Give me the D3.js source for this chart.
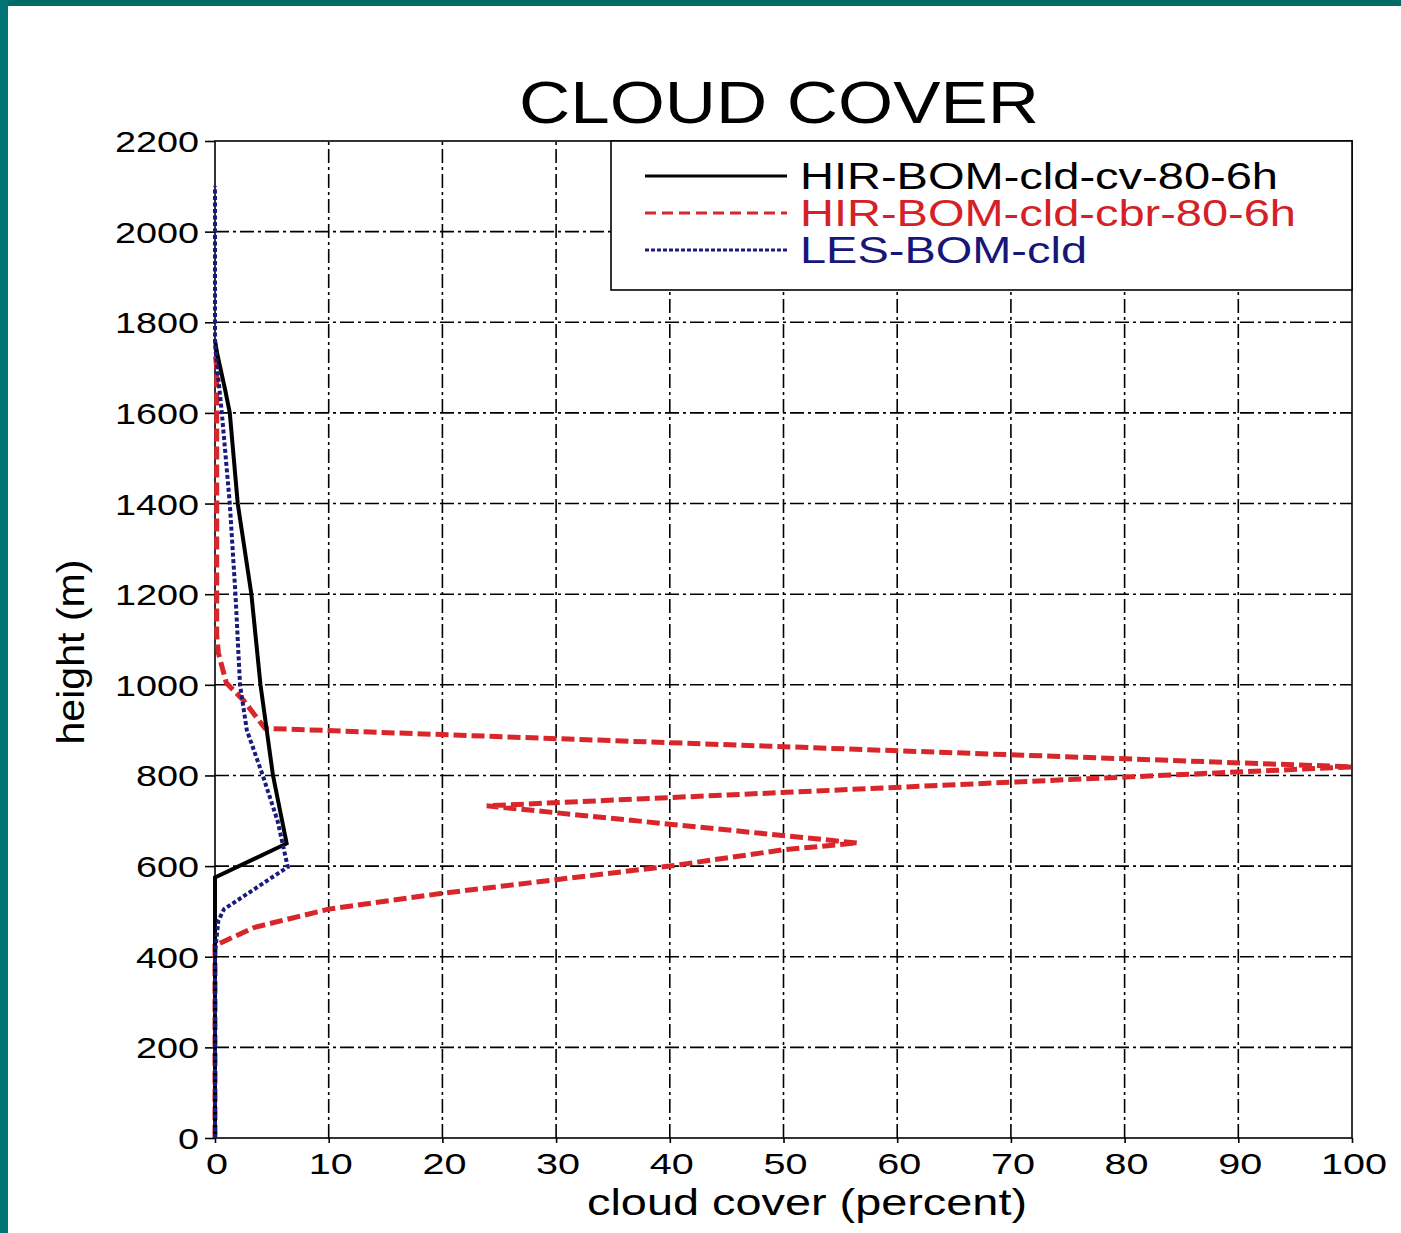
<!DOCTYPE html>
<html>
<head>
<meta charset="utf-8">
<script src="https://cdn.jsdelivr.net/npm/d3@7"></script>
<style>
  body { margin: 0; background: #fff; }
  svg { display: block; font-family: "Liberation Sans", Arial, sans-serif; }
  .grid line { stroke: #000; stroke-width: 1.6; stroke-dasharray: 14,4,3,4; }
  .tick-label { font-size: 30px; fill: #000; }
</style>
</head>
<body>
<div id="chart"></div>
<script>
// heights (m) and cloud cover (%)
const cvHeight  = [0, 575, 650, 800, 1000, 1200, 1400, 1600, 1650, 1730, 1760];
const cvCover   = [0, 0, 6.3, 5.1, 4.0, 3.2, 2.0, 1.3, 0.9, 0.2, 0];

const cbrHeight = [0, 425, 465, 505, 540, 570, 600, 636, 651, 733, 819, 904, 966, 1004, 1070, 1110, 1700, 1735];
const cbrCover  = [0, 0, 3.5, 10, 20, 30, 40, 50, 56.5, 23.9, 100, 4.4, 2.5, 1.0, 0.3, 0.15, 0.15, 0];

const lesHeight = [0, 410, 480, 505, 598, 700, 800, 900, 1000, 1200, 1400, 1600, 1700, 1750, 2100];
const lesCover  = [0, 0, 0.3, 0.8, 6.4, 5.5, 4.2, 2.8, 2.2, 1.8, 1.3, 0.6, 0.2, 0, 0];

const xTicks = [0, 10, 20, 30, 40, 50, 60, 70, 80, 90, 100];
const yTicks = [0, 200, 400, 600, 800, 1000, 1200, 1400, 1600, 1800, 2000, 2200];

const seriesNames = ['HIR-BOM-cld-cv-80-6h', 'HIR-BOM-cld-cbr-80-6h', 'LES-BOM-cld'];

const W = 1401, H = 1233;
const plot = {left: 215, right: 1352, top: 141, bottom: 1138};

let svg = d3.select('#chart').append('svg')
    .attr('width', W)
    .attr('height', H);

svg.append('rect').attr('width', W).attr('height', H).attr('fill', '#fff');
// teal slide border
svg.append('rect').attr('x', 0).attr('y', 0).attr('width', W).attr('height', 6).attr('fill', '#006a68');
svg.append('rect').attr('x', 0).attr('y', 0).attr('width', 8).attr('height', H).attr('fill', '#007372');

let x = d3.scaleLinear().domain([0, 100]).range([plot.left, plot.right]);
let y = d3.scaleLinear().domain([0, 2200]).range([plot.bottom, plot.top]);

// grid
let grid = svg.append('g').classed('grid', true);
grid.selectAll('.vg')
    .data(xTicks.slice(1, -1))
    .join('line')
    .attr('x1', d => x(d)).attr('x2', d => x(d))
    .attr('y1', plot.bottom).attr('y2', plot.top);
grid.selectAll('.hg')
    .data(yTicks.slice(1, -1))
    .join('line')
    .attr('x1', plot.left).attr('x2', plot.right)
    .attr('y1', d => y(d)).attr('y2', d => y(d));

// frame
svg.append('rect')
    .attr('x', plot.left).attr('y', plot.top)
    .attr('width', plot.right - plot.left).attr('height', plot.bottom - plot.top)
    .attr('fill', 'none').attr('stroke', '#000').attr('stroke-width', 1.6);

// axes
let yAxis = svg.append('g')
    .attr('transform', `translate(${plot.left},0)`)
    .call(d3.axisLeft(y).tickValues(yTicks).tickSize(10).tickFormat(''));
let xAxis = svg.append('g')
    .attr('transform', `translate(0,${plot.bottom})`)
    .call(d3.axisBottom(x).tickValues(xTicks).tickSize(5).tickFormat(''));
[xAxis, yAxis].forEach(a => {
    a.select('.domain').remove();
    a.selectAll('line').attr('stroke', '#000').attr('stroke-width', 1.6);
});

svg.append('g').selectAll('text')
    .data(yTicks)
    .join('text')
    .classed('tick-label', true)
    .attr('x', 199)
    .attr('y', d => y(d) + 11)
    .attr('text-anchor', 'end')
    .attr('textLength', d => String(d).length * 21)
    .attr('lengthAdjust', 'spacingAndGlyphs')
    .text(d => d);

svg.append('g').selectAll('text')
    .data(xTicks)
    .join('text')
    .classed('tick-label', true)
    .attr('x', d => x(d) + 2)
    .attr('y', 1174)
    .attr('text-anchor', 'middle')
    .attr('textLength', d => String(d).length * 22)
    .attr('lengthAdjust', 'spacingAndGlyphs')
    .text(d => d);

// titles
svg.append('text')
    .attr('x', 779).attr('y', 123)
    .attr('text-anchor', 'middle')
    .attr('font-size', 60)
    .attr('textLength', 520).attr('lengthAdjust', 'spacingAndGlyphs')
    .text('CLOUD COVER');

svg.append('text')
    .attr('x', 807).attr('y', 1215)
    .attr('text-anchor', 'middle')
    .attr('font-size', 36)
    .attr('textLength', 440).attr('lengthAdjust', 'spacingAndGlyphs')
    .text('cloud cover (percent)');

svg.append('text')
    .attr('transform', 'translate(84,652) rotate(-90)')
    .attr('text-anchor', 'middle')
    .attr('font-size', 38)
    .attr('textLength', 185).attr('lengthAdjust', 'spacingAndGlyphs')
    .text('height (m)');

// series
let line = d3.line()
    .x(d => x(d[1]))
    .y(d => y(d[0]));

const series = [
    {name: seriesNames[0], h: cvHeight, c: cvCover, color: '#000', width: 4, dash: null, legendDash: null, text: '#000'},
    {name: seriesNames[1], h: cbrHeight, c: cbrCover, color: '#d8262b', width: 5, dash: '13,5', legendDash: '11,6', text: '#d42127'},
    {name: seriesNames[2], h: lesHeight, c: lesCover, color: '#1b1b7d', width: 4, dash: '4,2.5', legendDash: '4,2', text: '#17177a'}
];

let lines = svg.append('g');
[series[1], series[0], series[2]].forEach(s => {
    lines.append('path')
        .datum(d3.zip(s.h, s.c))
        .attr('d', line)
        .attr('fill', 'none')
        .attr('stroke', s.color)
        .attr('stroke-width', s.width)
        .attr('stroke-dasharray', s.dash);
});

// legend
let legend = svg.append('g');
legend.append('rect')
    .attr('x', 611).attr('y', plot.top)
    .attr('width', plot.right - 611).attr('height', 290 - plot.top)
    .attr('fill', '#fff').attr('stroke', '#000').attr('stroke-width', 1.6);

const legendWidths = [478, 496, 287];
series.forEach((s, i) => {
    let ly = 176 + i * 37;
    legend.append('line')
        .attr('x1', 645).attr('x2', 787)
        .attr('y1', ly).attr('y2', ly)
        .attr('stroke', s.color)
        .attr('stroke-width', 3)
        .attr('stroke-dasharray', s.legendDash);
    legend.append('text')
        .attr('x', 800).attr('y', ly + 13)
        .attr('font-size', 37)
        .attr('fill', s.text)
        .attr('textLength', legendWidths[i]).attr('lengthAdjust', 'spacingAndGlyphs')
        .text(s.name);
});
</script>
</body>
</html>
